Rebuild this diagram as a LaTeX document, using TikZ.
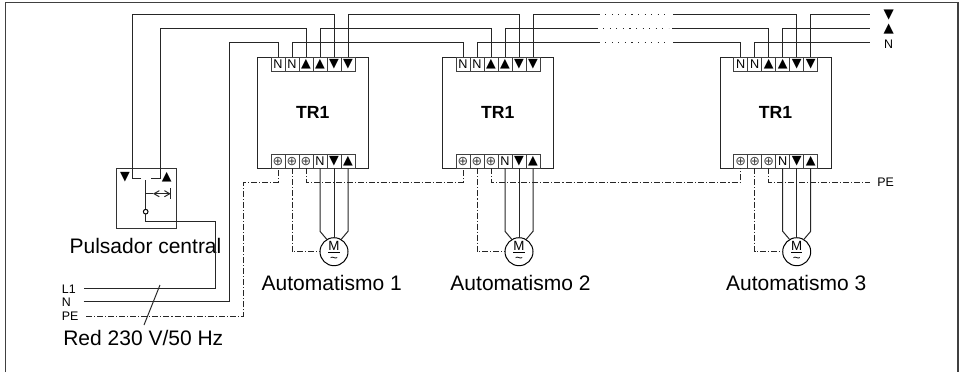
\documentclass[tikz,border=0pt]{standalone}
\usepackage{fontspec}
\setmainfont{Liberation Sans}
\newfontfamily\symfont{DejaVu Sans}
\usetikzlibrary{arrows}
\newcommand{\dnsym}{{\symfont ▼}}
\newcommand{\upsym}{{\symfont ▲}}
\newcommand{\gndsym}{{\symfont\fontsize{9.5pt}{9.5pt}\selectfont\color{black!75}⊕}}
\tikzset{wire/.style={draw=black!85,line width=0.75pt}}
\tikzset{earth/.style={wire,dash pattern=on 4.5pt off 1.5pt on 0.8pt off 1.5pt}}
\tikzset{dots/.style={wire,dash pattern=on 0.8pt off 4.1pt,shorten <=4pt,shorten >=2.5pt}}
\tikzset{term/.style={draw=black!75,line width=0.75pt,minimum size=10.5pt,inner sep=0pt,outer sep=0pt,font=\fontsize{9.5pt}{9.5pt}\selectfont}}
\tikzset{unit/.style={draw=black!85,line width=0.75pt,minimum size=83.25pt,inner sep=0pt,outer sep=0pt,font=\fontsize{13.2pt}{13.2pt}\selectfont\bfseries}}
\tikzset{motor/.style={circle,draw=black,line width=0.75pt,fill=white,minimum size=21pt,inner sep=0pt,outer sep=0pt,align=center,font=\fontsize{10pt}{8.6pt}\selectfont}}
\tikzset{big/.style={anchor=base,inner sep=0pt,font=\fontsize{15.75pt}{15.75pt}\selectfont}}
\tikzset{lab/.style={inner sep=0pt,font=\fontsize{9.3pt}{9.3pt}\selectfont}}
\begin{document}
\begin{tikzpicture}[x=0.75pt,y=-0.75pt]
\useasboundingbox (0,0) rectangle (962,372);
\coordinate (frameA) at (5.5,372);
\coordinate (frameB) at (5.5,2.5);
\coordinate (frameC) at (958,2.5);
\coordinate (frameD) at (958,372);
\draw[draw=black!75,line width=1.1pt] (frameA) -- (frameB) -- (frameC) -- (frameD);

% bus heights and free ends
\coordinate (dnBus) at (0,14.7);
\coordinate (upBus) at (0,28.7);
\coordinate (nBus) at (0,42.7);
\coordinate (peBus) at (0,182.3);
\coordinate (dnStop) at (600,14.7);
\coordinate (upStop) at (598,28.7);
\coordinate (nStop) at (600,42.7);
\coordinate (dnStart) at (673,14.7);
\coordinate (upStart) at (672,28.7);
\coordinate (nStart) at (673,42.7);
\coordinate (dnEnd) at (870,14.7);
\coordinate (upEnd) at (870,28.7);
\coordinate (nEnd) at (870,42.7);
\coordinate (peEnd) at (870,182.3);

% first unit
\node[unit](boxA) at (312.8,112.8){TR1};
\node[term](topA1) at (278,64.3){N};
\node[term](topA2) at (292,64.3){N};
\node[term](topA3) at (306,64.3){\upsym};
\node[term](topA4) at (320,64.3){\upsym};
\node[term](topA5) at (334,64.3){\dnsym};
\node[term](topA6) at (348,64.3){\dnsym};
\node[term](botA1) at (278,161.3){\gndsym};
\node[term](botA2) at (292,161.3){\gndsym};
\node[term](botA3) at (306,161.3){\gndsym};
\node[term](botA4) at (320,161.3){N};
\node[term](botA5) at (334,161.3){\dnsym};
\node[term](botA6) at (348,161.3){\upsym};
\node[motor](motA) at (334,251.7){\underline{M}\\\textasciitilde};
\node[big](autoA) at (331.7,290){Automatismo 1};

% second unit
\node[unit](boxB) at (497.8,112.8){TR1};
\node[term](topB1) at (463,64.3){N};
\node[term](topB2) at (477,64.3){N};
\node[term](topB3) at (491,64.3){\upsym};
\node[term](topB4) at (505,64.3){\upsym};
\node[term](topB5) at (519,64.3){\dnsym};
\node[term](topB6) at (533,64.3){\dnsym};
\node[term](botB1) at (463,161.3){\gndsym};
\node[term](botB2) at (477,161.3){\gndsym};
\node[term](botB3) at (491,161.3){\gndsym};
\node[term](botB4) at (505,161.3){N};
\node[term](botB5) at (519,161.3){\dnsym};
\node[term](botB6) at (533,161.3){\upsym};
\node[motor](motB) at (519,251.7){\underline{M}\\\textasciitilde};
\node[big](autoB) at (520.5,290){Automatismo 2};

% third unit
\node[unit](boxC) at (775.5,112.8){TR1};
\node[term](topC1) at (740.7,64.3){N};
\node[term](topC2) at (754.7,64.3){N};
\node[term](topC3) at (768.7,64.3){\upsym};
\node[term](topC4) at (782.7,64.3){\upsym};
\node[term](topC5) at (796.7,64.3){\dnsym};
\node[term](topC6) at (810.7,64.3){\dnsym};
\node[term](botC1) at (740.7,161.3){\gndsym};
\node[term](botC2) at (754.7,161.3){\gndsym};
\node[term](botC3) at (768.7,161.3){\gndsym};
\node[term](botC4) at (782.7,161.3){N};
\node[term](botC5) at (796.7,161.3){\dnsym};
\node[term](botC6) at (810.7,161.3){\upsym};
\node[motor](motC) at (796.7,251.7){\underline{M}\\\textasciitilde};
\node[big](autoC) at (796.2,290){Automatismo 3};

% central push button
\node[draw=black!80,line width=0.75pt,minimum size=45pt,inner sep=0pt,outer sep=0pt](puls) at (146,198.3){};
\node[lab](pulsDn) at (125,177){\fontsize{9.5pt}{9.5pt}\selectfont\dnsym};
\node[lab](pulsUp) at (166.7,177.5){\fontsize{9.5pt}{9.5pt}\selectfont\upsym};
\node[circle,draw=black,line width=0.75pt,fill=white,minimum size=3.5pt,inner sep=0pt,outer sep=0pt](cont) at (145.7,211.7){};
\node[big](pulsLab) at (145.5,253){Pulsador central};
\coordinate (dnGap) at (141,178.3);
\coordinate (dnTurn) at (132.3,14.7);
\coordinate (upGap) at (151,178.3);
\coordinate (upTurn) at (160.3,28.7);
\coordinate (contTop) at (145.7,180);
\coordinate (brA) at (145.7,193.7);
\coordinate (brB) at (153,193.7);
\coordinate (brC) at (170.7,193.7);
\coordinate (barT) at (170.7,188);
\coordinate (barB) at (170.7,199);
\draw[wire] (dnGap) -| (dnTurn) -| (topA5.north);
\draw[wire] (upGap) -| (upTurn) -| (topA3.north);
\draw[wire] (contTop) -- (cont.north);
\draw[wire] (brA) -- (brB);
\draw[wire,angle 60-angle 60] (brB) -- (brC);
\draw[wire] (barT) -- (barB);

% supply
\node[lab,anchor=west](labL) at (61.7,289){L1};
\node[lab,anchor=west](labN) at (61.7,302.5){N};
\node[lab,anchor=west](labPE) at (61.7,316.5){PE};
\node[big](netLab) at (143.3,345.7){Red 230 V/50 Hz};
\coordinate (lEnd) at (83.7,288.3);
\coordinate (lTurn) at (215.3,221.7);
\coordinate (nIn) at (83.7,301.7);
\coordinate (nTurn) at (229.3,42.7);
\coordinate (peIn) at (86,316);
\coordinate (peTurn) at (243.3,182.3);
\coordinate (netA) at (160,285);
\coordinate (netB) at (144,325);
\draw[wire] (cont.south) |- (lTurn) |- (lEnd);
\draw[wire] (nIn) -| (nTurn) -| (topA1.north);
\draw[earth] (peIn) -| (peTurn) -| (botA1.south);
\draw[wire] (netA) -- (netB);

% buses along the top
\draw[wire] (topA6.north) |- (dnBus -| topB5.north) -- (topB5.north);
\draw[wire] (topA4.north) |- (upBus -| topB3.north) -- (topB3.north);
\draw[wire] (topA2.north) |- (nBus -| topB1.north) -- (topB1.north);
\draw[wire] (topB6.north) |- (dnStop);
\draw[wire] (topB4.north) |- (upStop);
\draw[wire] (topB2.north) |- (nStop);
\draw[dots] (dnStop) -- (dnStart);
\draw[dots] (upStop) -- (upStart);
\draw[dots] (nStop) -- (nStart);
\draw[wire] (dnStart) -| (topC5.north);
\draw[wire] (upStart) -| (topC3.north);
\draw[wire] (nStart) -| (topC1.north);
\draw[wire] (topC6.north) |- (dnEnd);
\draw[wire] (topC4.north) |- (upEnd);
\draw[wire] (topC2.north) |- (nEnd);
\node[lab](endDn) at (888.7,15){\fontsize{10pt}{10pt}\selectfont\dnsym};
\node[lab](endUp) at (888.7,29){\fontsize{10pt}{10pt}\selectfont\upsym};
\node[lab](endN) at (888.7,44){N};

% earth bus
\draw[earth] (botA3.south) |- (peBus -| botB1.south) -- (botB1.south);
\draw[earth] (botB3.south) |- (peBus -| botC1.south) -- (botC1.south);
\draw[earth] (botC3.south) |- (peEnd);
\node[lab](endPE) at (885.7,182.5){PE};

% motor leads
\draw[earth] (botA2.south) |- (motA.west);
\draw[wire] (botA4.south) -- ++(0,63) -- (motA.120);
\draw[wire] (botA5.south) -- (motA.north);
\draw[wire] (botA6.south) -- ++(0,63) -- (motA.60);
\draw[earth] (botB2.south) |- (motB.west);
\draw[wire] (botB4.south) -- ++(0,63) -- (motB.120);
\draw[wire] (botB5.south) -- (motB.north);
\draw[wire] (botB6.south) -- ++(0,63) -- (motB.60);
\draw[earth] (botC2.south) |- (motC.west);
\draw[wire] (botC4.south) -- ++(0,63) -- (motC.120);
\draw[wire] (botC5.south) -- (motC.north);
\draw[wire] (botC6.south) -- ++(0,63) -- (motC.60);
\end{tikzpicture}
\end{document}
